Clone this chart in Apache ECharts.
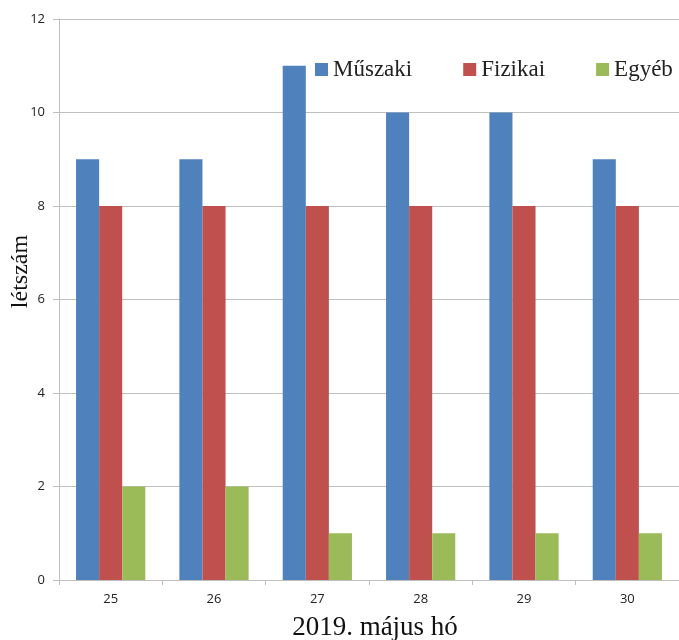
<!DOCTYPE html>
<html>
<head>
<meta charset="utf-8">
<script src="https://cdn.jsdelivr.net/npm/echarts@6/dist/echarts.min.js"></script>
<style>
  html, body { margin: 0; padding: 0; background: #fff; }
  #chart { width: 679px; height: 640px; }
</style>
</head>
<body>
<div id="chart"></div>
<script>
// adatok
var days = ["25", "26", "27", "28", "29", "30"];
var muszaki = [9, 9, 11, 10, 10, 9];
var fizikai = [8, 8, 8, 8, 8, 8];
var egyeb = [2, 2, 1, 1, 1, 1];
var seriesNames = ["Műszaki", "Fizikai", "Egyéb"];

(function () {
    var myChart = echarts.init(document.getElementById("chart"));
    var serif = "'Liberation Serif', 'DejaVu Serif', serif";
    var sans = "'Open Sans', 'Liberation Sans', sans-serif";
    var option = {
        color: ["#4F81BD", "#C0504D", "#9BBB59"],
        animation: false,
        grid: {
            left: 59,
            right: 0,
            top: 19,
            bottom: 60,
            containLabel: false,
            outerBoundsMode: "none"
        },
        legend: {
            left: 315,
            top: 58,
            width: 430,
            padding: 0,
            itemWidth: 13,
            itemHeight: 13,
            itemGap: 51,
            icon: "rect",
            textStyle: {
                fontFamily: serif,
                fontSize: 23,
                color: "#222"
            },
            data: seriesNames
        },
        xAxis: {
            type: "category",
            data: days,
            name: "2019. május hó",
            nameLocation: "middle",
            nameGap: 34,
            nameMoveOverlap: false,
            nameTextStyle: {
                fontFamily: serif,
                fontSize: 27,
                color: "#111",
                padding: [0, 0, 0, 12]
            },
            axisLine: { lineStyle: { color: "#BFBFBF" } },
            axisTick: { show: true, length: 5, lineStyle: { color: "#BFBFBF" } },
            axisLabel: { fontFamily: sans, fontSize: 13, color: "#222", margin: 13 }
        },
        yAxis: {
            type: "value",
            min: 0,
            max: 12,
            interval: 2,
            name: "létszám",
            nameLocation: "middle",
            nameGap: 26,
            nameMoveOverlap: false,
            nameTextStyle: {
                fontFamily: serif,
                fontSize: 24,
                color: "#111",
                padding: [0, 0, 0, 56]
            },
            axisLine: { show: true, lineStyle: { color: "#BFBFBF" } },
            axisTick: { show: true, length: 6, lineStyle: { color: "#BFBFBF" } },
            axisLabel: { fontFamily: sans, fontSize: 13, color: "#222", margin: 14 },
            splitLine: { lineStyle: { color: "#BFBFBF" } }
        },
        series: [
            { name: seriesNames[0], type: "bar", data: muszaki, barGap: "0%", barCategoryGap: "33%" },
            { name: seriesNames[1], type: "bar", data: fizikai, barGap: "0%", barCategoryGap: "33%" },
            { name: seriesNames[2], type: "bar", data: egyeb, barGap: "0%", barCategoryGap: "33%" }
        ]
    };
    myChart.setOption(option);
    window.addEventListener("resize", function () {
        myChart.resize();
    });
})();
</script>
</body>
</html>
